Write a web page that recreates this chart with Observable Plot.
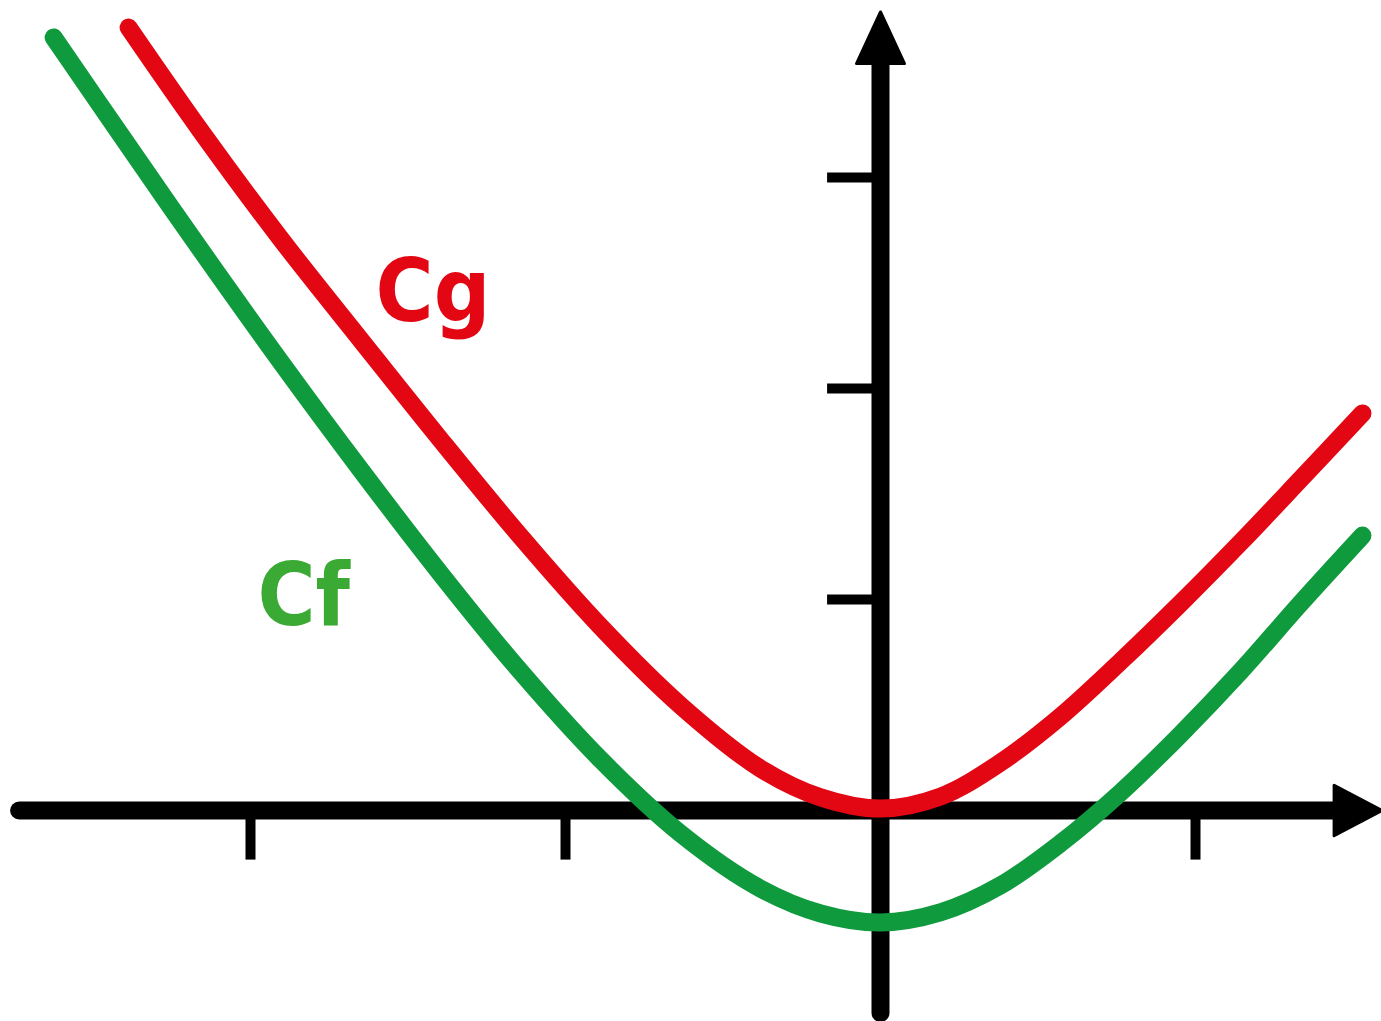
<!DOCTYPE html>
<html>
<head>
<meta charset="utf-8">
<script src="https://cdn.jsdelivr.net/npm/d3@7"></script>
<script src="https://cdn.jsdelivr.net/npm/@observablehq/plot@0.6"></script>
<style>
  html, body { margin: 0; padding: 0; background: #fff; }
  #chart { width: 1381px; height: 1021px; overflow: hidden; }
</style>
</head>
<body>
<div id="chart"></div>
<script>
// Curve Cg (red)
const cgX = [-2.387, -2.159, -1.905, -1.651, -1.397, -1.143, -0.889, -0.635, -0.381, -0.190, 0.0, 0.190, 0.381, 0.571, 0.762, 0.952, 1.143, 1.333, 1.530];
const cgY = [3.711, 3.223, 2.711, 2.232, 1.758, 1.299, 0.872, 0.498, 0.199, 0.062, 0.009, 0.066, 0.227, 0.445, 0.706, 0.981, 1.270, 1.569, 1.882];
// Curve Cf (green)
const cfX = [-2.625, -2.413, -2.159, -1.905, -1.651, -1.397, -1.143, -0.889, -0.635, -0.381, -0.190, 0.0, 0.190, 0.381, 0.571, 0.762, 0.952, 1.143, 1.333, 1.530];
const cfY = [3.664, 3.204, 2.659, 2.128, 1.616, 1.123, 0.659, 0.242, -0.109, -0.370, -0.488, -0.531, -0.483, -0.355, -0.156, 0.085, 0.360, 0.659, 0.981, 1.303];
// Axis ticks
const xTicks = [-2, -1, 1];
const yTicks = [1, 2, 3];
// Curve labels
const labelText = ["Cg", "Cf"];
const labelX = [-1.603, -1.978];
const labelY = [2.322, 0.877];

const red = "#e30613";
const green = "#0f9a3e";
const labelColors = ["#e30613", "#3aaa35"];

const cg = cgX.map((x, i) => ({x, y: cgY[i]}));
const cf = cfX.map((x, i) => ({x, y: cfY[i]}));
const labels = labelText.map((t, i) => ({t, x: labelX[i], y: labelY[i], c: labelColors[i]}));

// axis extents (data units)
const xAxisFrom = -2.733, xAxisTo = 1.44;
const yAxisFrom = -0.962, yAxisTo = 3.54;

const arrowUp = {
  draw(ctx, size) {
    const r = Math.sqrt(size / Math.PI);
    ctx.moveTo(0, -2.15 * r); ctx.lineTo(r, 0); ctx.lineTo(-r, 0); ctx.closePath();
  }
};
const arrowRight = {
  draw(ctx, size) {
    const r = Math.sqrt(size / Math.PI);
    ctx.moveTo(2.0 * r, 0); ctx.lineTo(0, r * 1.05); ctx.lineTo(0, -r * 1.05); ctx.closePath();
  }
};

const W = 1381, H = 1021;
const plot = Plot.plot({
  width: W, height: H,
  margin: 0,
  x: {domain: [-880 / 315, (W - 880) / 315], axis: null},
  y: {domain: [-(H - 810) / 211, 810 / 211], axis: null},
  marks: [
    // axes
    Plot.ruleY([0], {x1: xAxisFrom, x2: xAxisTo + 0.03, stroke: "black", strokeWidth: 18, strokeLinecap: "round"}),
    Plot.ruleX([0], {y1: yAxisFrom, y2: yAxisTo + 0.05, stroke: "black", strokeWidth: 18, strokeLinecap: "round"}),
    Plot.ruleX(xTicks, {x: d => d, y1: 0, y2: -0.235, stroke: "black", strokeWidth: 10}),
    Plot.ruleY(yTicks, {y: d => d, x1: -0.168, x2: 0, stroke: "black", strokeWidth: 10}),
    Plot.dot([{x: 0, y: yAxisTo}], {x: "x", y: "y", symbol: arrowUp, r: 24, fill: "black", stroke: "black", strokeWidth: 3, strokeLinejoin: "round"}),
    Plot.dot([{x: xAxisTo, y: 0}], {x: "x", y: "y", symbol: arrowRight, r: 24, fill: "black", stroke: "black", strokeWidth: 3, strokeLinejoin: "round"}),
    // curves
    Plot.line(cf, {x: "x", y: "y", stroke: green, strokeWidth: 18, strokeLinecap: "round", curve: "catmull-rom"}),
    Plot.line(cg, {x: "x", y: "y", stroke: red, strokeWidth: 18, strokeLinecap: "round", curve: "catmull-rom"}),
    // labels
    Plot.text(labels, {x: "x", y: "y", text: "t", fill: "c", textAnchor: "start", lineAnchor: "bottom",
      fontSize: 88, fontWeight: "bold", fontFamily: "'DejaVu Sans Condensed', 'DejaVu Sans', sans-serif"})
  ]
});
document.getElementById("chart").appendChild(plot);
</script>
</body>
</html>
